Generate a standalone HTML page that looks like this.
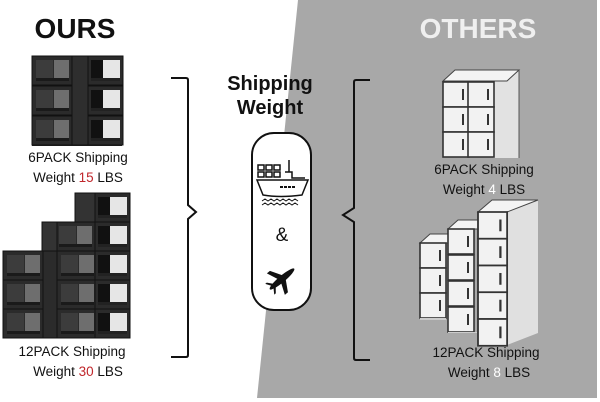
<!DOCTYPE html>
<html><head><meta charset="utf-8"><style>
html,body{margin:0;padding:0;background:#fff}
body{width:600px;height:402px;overflow:hidden;position:relative;font-family:"Liberation Sans","DejaVu Sans",sans-serif}
svg{position:absolute;left:0;top:0}
</style></head><body>
<svg width="600" height="402" viewBox="0 0 600 402" xmlns="http://www.w3.org/2000/svg">
<defs>
<g id="dk">
 <rect x="0" y="0" width="40" height="29" fill="#2b2b2b" stroke="#111" stroke-width="1"/>
 <rect x="4" y="4" width="17" height="21" fill="#3c3c3c"/>
 <rect x="22" y="4" width="15" height="21" fill="#6e6e6e"/>
 <rect x="4" y="22" width="33" height="3" fill="#1a1a1a"/>
</g>
<g id="dkr">
 <rect x="0" y="0" width="35" height="29" fill="#2b2b2b" stroke="#111" stroke-width="1"/>
 <rect x="3" y="4" width="12" height="21" fill="#111"/>
 <rect x="15" y="4" width="17" height="19" fill="#e6e6e6"/>
 <rect x="3" y="22" width="29" height="3" fill="#222"/>
</g>
<g id="wt">
 <rect x="0" y="0" width="26" height="25" fill="#f2f2f2" stroke="#333" stroke-width="1.6"/>
 <rect x="19" y="7" width="2" height="11" fill="#333"/>
</g>
</defs>
<!-- gray region -->
<polygon points="298,0 600,0 600,398 257,398" fill="#a8a8a8"/>
<rect x="0" y="398" width="600" height="4" fill="#fff"/>
<rect x="597" y="0" width="3" height="402" fill="#fff"/>

<!-- titles -->
<text x="75" y="38" text-anchor="middle" font-size="28" font-weight="bold" fill="#111">OURS</text>
<text x="478" y="38" text-anchor="middle" font-size="28" font-weight="bold" fill="#efefef">OTHERS</text>
<text x="270" y="90" text-anchor="middle" font-size="20" font-weight="bold" fill="#111">Shipping</text>
<text x="270" y="114" text-anchor="middle" font-size="20" font-weight="bold" fill="#111">Weight</text>

<!-- left 6 pack -->
<rect x="32" y="56" width="90" height="90" fill="#222"/>
<use href="#dk" x="32" y="56"/><use href="#dkr" x="88" y="56"/>
<use href="#dk" x="32" y="86"/><use href="#dkr" x="88" y="86"/>
<use href="#dk" x="32" y="116"/><use href="#dkr" x="88" y="116"/>
<rect x="72" y="56" width="16" height="89" fill="#2e2e2e" stroke="#111"/>
<text x="78" y="162" text-anchor="middle" font-size="13.5" fill="#111">6PACK Shipping</text>
<text x="78" y="182" text-anchor="middle" font-size="13.5" fill="#111">Weight <tspan fill="#c0262b">15</tspan> LBS</text>

<!-- left 12 pack -->
<use href="#dkr" x="95" y="193"/><rect x="75" y="193" width="20" height="29" fill="#333" stroke="#111"/>
<use href="#dk" x="55" y="222"/><use href="#dkr" x="95" y="222"/><rect x="42" y="222" width="15" height="29" fill="#333" stroke="#111"/>
<use href="#dk" x="3" y="251"/><use href="#dk" x="57" y="251"/><use href="#dkr" x="95" y="251"/>
<use href="#dk" x="3" y="280"/><use href="#dk" x="57" y="280"/><use href="#dkr" x="95" y="280"/>
<use href="#dk" x="3" y="309"/><use href="#dk" x="57" y="309"/><use href="#dkr" x="95" y="309"/>
<rect x="43" y="251" width="14" height="87" fill="#2b2b2b" stroke="#111"/>
<text x="72" y="356" text-anchor="middle" font-size="13.5" fill="#111">12PACK Shipping</text>
<text x="78" y="376" text-anchor="middle" font-size="13.5" fill="#111">Weight <tspan fill="#c0262b">30</tspan> LBS</text>

<!-- left bracket -->
<path d="M171 78 H186 Q188 78 188 80 V205 L196 212 L188 219 V355 Q188 357 186 357 H171" fill="none" stroke="#111" stroke-width="2"/>
<!-- right bracket -->
<path d="M370 80 H356 Q354 80 354 82 V208 L343 215 L354 222 V358 Q354 360 356 360 H370" fill="none" stroke="#111" stroke-width="2"/>

<!-- capsule -->
<rect x="252" y="133" width="59" height="177" rx="22" fill="#fff" stroke="#111" stroke-width="2"/>
<!-- ship -->
<g stroke="#111" stroke-width="1.5" fill="none">
 <rect x="258" y="165" width="6" height="5"/><rect x="266" y="165" width="6" height="5"/><rect x="274" y="165" width="6" height="5"/>
 <rect x="258" y="172" width="6" height="5"/><rect x="266" y="172" width="6" height="5"/><rect x="274" y="172" width="6" height="5"/>
 <path d="M289 160 V172 M285 172 H292 V178 H305 M257 180 H308 L302 195 Q280 198 263 195 Z"/>
 <path d="M262 201 l3 -2 l3 2 l3 -2 l3 2 l3 -2 l3 2 l3 -2 l3 2 l3 -2 l3 2 l3 -2 l3 2 M262 205 l3 -2 l3 2 l3 -2 l3 2 l3 -2 l3 2 l3 -2 l3 2 l3 -2 l3 2 l3 -2 l3 2" stroke-width="1"/>
</g>
<g fill="#111"><rect x="280" y="186" width="3" height="2"/><rect x="284" y="186" width="3" height="2"/><rect x="288" y="186" width="3" height="2"/><rect x="292" y="186" width="3" height="2"/></g>
<text x="282" y="241" text-anchor="middle" font-size="19" fill="#111">&amp;</text>
<!-- plane -->
<g transform="translate(282,279) rotate(-40)" fill="#111">
 <ellipse cx="0" cy="0" rx="16" ry="3.2"/>
 <polygon points="-3,-2 3,-2 -4,-14 -8,-14"/>
 <polygon points="-3,2 3,2 -4,14 -8,14"/>
 <polygon points="-12,-1 -9,-1 -14,-7 -16,-7"/>
 <polygon points="-12,1 -9,1 -14,7 -16,7"/>
</g>

<!-- right 6 pack -->
<polygon points="443,81 455,70 519,70 519,158 493,158 493,81" fill="#e2e2e2"/>
<polygon points="443,81 455,70 519,70 507,81" fill="#f4f4f4" stroke="#444" stroke-width="1"/>
<line x1="519" y1="70" x2="519" y2="158" stroke="#555"/>
<use href="#wt" x="443" y="82"/><use href="#wt" x="468" y="82"/>
<use href="#wt" x="443" y="107"/><use href="#wt" x="468" y="107"/>
<use href="#wt" x="443" y="132"/><use href="#wt" x="468" y="132"/>
<text x="484" y="174" text-anchor="middle" font-size="13.5" fill="#111">6PACK Shipping</text>
<text x="484" y="194" text-anchor="middle" font-size="13.5" fill="#111">Weight <tspan fill="#fff">4</tspan> LBS</text>

<!-- right 12 pack -->
<polygon points="478,212 492,200 538,200 538,333 507,345 478,345" fill="#e0e0e0"/>
<polygon points="448,229 458,220 480,220 478,229" fill="#f4f4f4" stroke="#444"/>
<polygon points="420,243 430,234 450,234 448,243" fill="#f4f4f4" stroke="#444"/>
<polygon points="478,212 492,200 538,200 507,212" fill="#f4f4f4" stroke="#444"/>
<use href="#wt" x="420" y="243"/><use href="#wt" x="420" y="268"/><use href="#wt" x="420" y="293"/>
<rect x="420" y="318" width="26" height="2" fill="#ccc"/>
<use href="#wt" x="448" y="229"/><use href="#wt" x="448" y="255"/><use href="#wt" x="448" y="281"/><use href="#wt" x="448" y="307"/>
<rect x="448" y="332" width="29" height="1" fill="#ccc"/>
<g transform="translate(478,212) scale(1.12,1.07)"><use href="#wt" x="0" y="0"/><use href="#wt" x="0" y="25"/><use href="#wt" x="0" y="50"/><use href="#wt" x="0" y="75"/><use href="#wt" x="0" y="100"/></g>
<text x="486" y="357" text-anchor="middle" font-size="13.5" fill="#111">12PACK Shipping</text>
<text x="489" y="377" text-anchor="middle" font-size="13.5" fill="#111">Weight <tspan fill="#fff">8</tspan> LBS</text>
</svg>
</body></html>
